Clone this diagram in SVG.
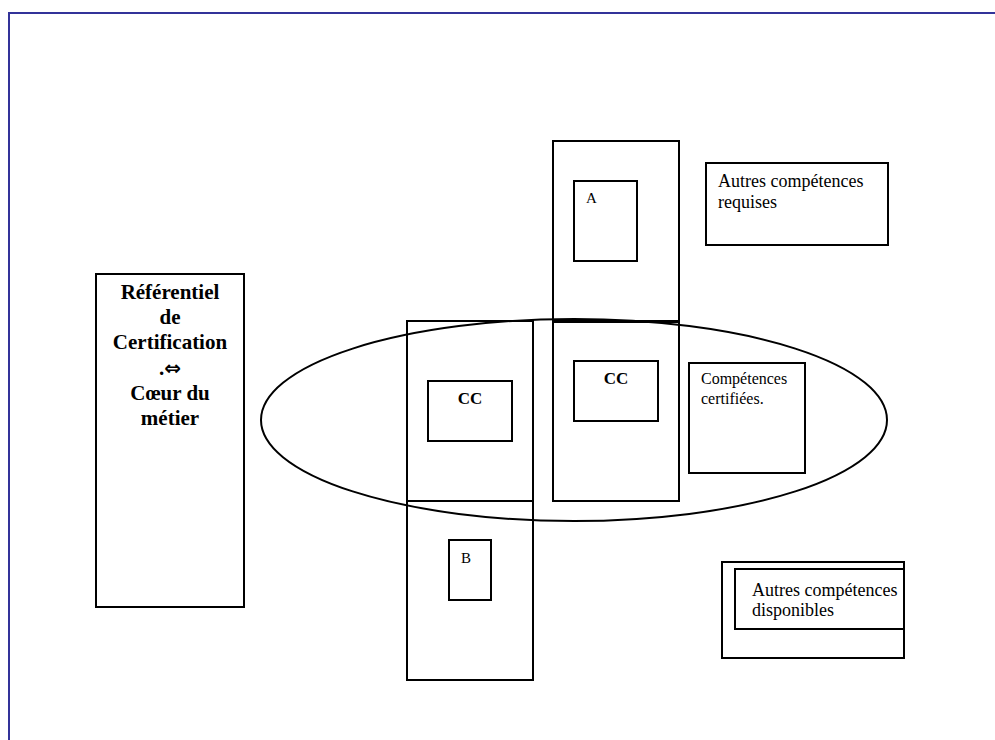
<svg xmlns="http://www.w3.org/2000/svg" width="995" height="740" viewBox="0 0 995 740">
<style>
.box{fill:none;stroke:#000;stroke-width:2}
.wbox{fill:#fff;stroke:#000;stroke-width:2}
.t{font-family:"Liberation Serif","Times New Roman",serif;fill:#000}
.b{font-weight:bold}
</style>
<rect width="995" height="740" fill="#fff"/>
<g id="frame">
<path d="M9,740 V13 H995" fill="none" stroke="#333399" stroke-width="2"/>
</g>
<g id="referentiel">
<rect class="wbox" x="96" y="274" width="148" height="333"/>
<g class="t b" font-size="21" text-anchor="middle">
<text x="170" y="299">Référentiel</text>
<text x="170" y="324">de</text>
<text x="170" y="349">Certification</text>
<text x="170" y="375">.<tspan font-family="'DejaVu Sans',sans-serif" font-size="20">⇔</tspan></text>
<text x="170" y="400">Cœur du</text>
<text x="170" y="425">métier</text>
</g>
</g>
<g id="colA">
<rect class="box" x="553" y="141" width="126" height="180"/>
<rect class="wbox" x="574" y="181" width="63" height="80"/>
<text class="t" x="586" y="203" font-size="15">A</text>
</g>
<g id="colRightCC">
<rect class="box" x="553" y="322" width="126" height="179"/>
<rect class="wbox" x="574" y="361" width="84" height="60"/>
<text class="t b" x="616" y="384" font-size="17" text-anchor="middle">CC</text>
</g>
<g id="colLeftCC">
<rect class="box" x="407" y="321" width="126" height="180"/>
<rect class="wbox" x="428" y="381" width="84" height="60"/>
<text class="t b" x="470" y="404" font-size="17" text-anchor="middle">CC</text>
</g>
<g id="colB">
<rect class="box" x="407" y="501" width="126" height="179"/>
<rect class="wbox" x="449" y="540" width="42" height="60"/>
<text class="t" x="461" y="563" font-size="15">B</text>
</g>
<g id="ellipse">
<ellipse cx="574" cy="420" rx="313" ry="101" fill="none" stroke="#000" stroke-width="2"/>
</g>
<g id="requises">
<rect class="wbox" x="706" y="163" width="182" height="82"/>
<text class="t" x="718" y="187" font-size="18">Autres compétences</text>
<text class="t" x="718" y="208" font-size="18">requises</text>
</g>
<g id="certifiees">
<rect class="wbox" x="689" y="363" width="116" height="110"/>
<text class="t" x="701" y="384" font-size="16">Compétences</text>
<text class="t" x="701" y="404" font-size="16">certifiées.</text>
</g>
<g id="disponibles">
<rect class="wbox" x="722" y="562" width="182" height="96"/>
<rect class="wbox" x="735" y="569" width="169" height="60"/>
<text class="t" x="752" y="596" font-size="18">Autres compétences</text>
<text class="t" x="752" y="616" font-size="18">disponibles</text>
</g>
</svg>
